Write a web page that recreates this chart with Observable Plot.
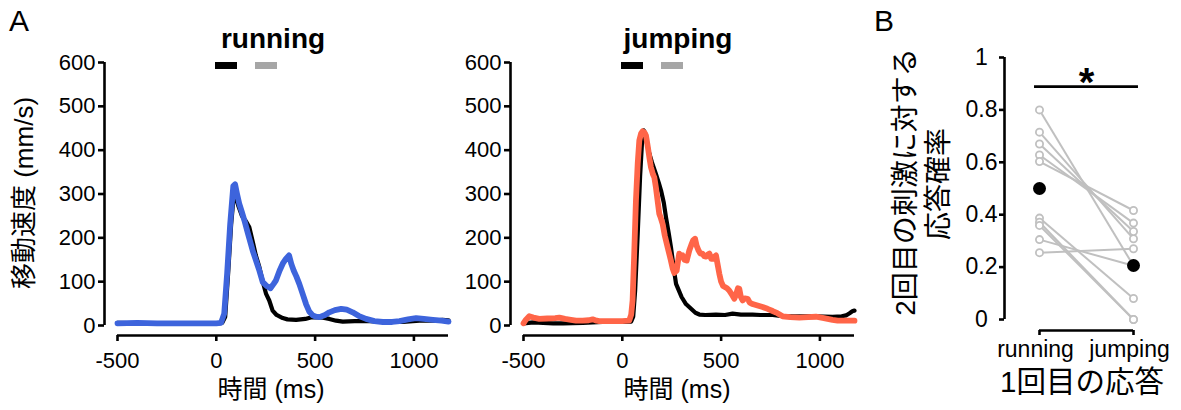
<!DOCTYPE html>
<html><head><meta charset="utf-8">
<script src="https://cdn.jsdelivr.net/npm/d3@7"></script>
<script src="https://cdn.jsdelivr.net/npm/@observablehq/plot@0.6"></script>
<style>
body{margin:0;background:#fff;}
#wrap{position:relative;width:1181px;height:410px;overflow:hidden;background:#fff;}
#wrap svg{position:absolute;top:0;}
</style></head><body><div id="wrap"></div>
<script>
// ---------- data ----------
const timeTicks = [-500, 0, 500, 1000];
const speedTicks = [0, 100, 200, 300, 400, 500, 600];
const probTicks = [0, 0.2, 0.4, 0.6, 0.8, 1];
const groups = ["running", "jumping"];

// [time ms, speed mm/s]
const runningBlack = [[-500,6],[-400,5],[-300,5],[-200,5],[-100,5],[0,5],[30,6],[45,20],[60,120],[75,230],[88,295],[95,300],[110,275],[130,250],[150,238],[167,224],[185,190],[200,160],[218,133],[235,100],[252,72],[268,57],[285,34],[305,24],[336,17],[360,14],[404,13],[450,15],[483,19],[540,18],[572,15],[606,11],[640,9],[700,10],[775,10],[876,8],[944,8],[1028,11],[1100,11],[1146,13],[1175,12]];
const runningColor = [[-500,5],[-400,6],[-300,5],[-200,5],[-100,5],[0,5],[24,6],[40,27],[55,120],[70,230],[86,318],[95,322],[105,300],[116,278],[130,258],[142,240],[160,210],[184,171],[201,148],[218,125],[235,99],[255,90],[274,85],[290,95],[302,103],[320,125],[336,141],[352,152],[368,160],[380,140],[392,125],[405,112],[420,95],[437,72],[454,49],[470,32],[488,23],[505,20],[522,19],[550,24],[572,30],[600,35],[632,38],[660,36],[690,30],[720,22],[758,15],[800,10],[843,8],[890,8],[927,10],[970,14],[1011,17],[1050,15],[1096,13],[1140,11],[1175,9]];

const jumpingBlack = [[-500,5],[-450,7],[-400,6],[-350,5],[-300,5],[-200,6],[-100,8],[0,8],[45,9],[55,20],[65,80],[78,210],[90,340],[100,420],[108,445],[115,440],[125,415],[137,392],[150,372],[170,346],[185,325],[196,308],[210,280],[221,247],[235,210],[246,179],[263,122],[272,95],[288,78],[300,65],[322,49],[348,38],[370,29],[390,25],[420,24],[474,25],[520,24],[558,27],[600,25],[659,25],[700,24],[761,24],[800,22],[850,21],[900,21],[980,21],[1064,20],[1110,21],[1132,23],[1150,28],[1166,33],[1175,34]];
const jumpingColor = [[-500,5],[-490,12],[-471,21],[-450,18],[-420,15],[-380,16],[-340,17],[-319,18],[-290,15],[-260,13],[-234,11],[-200,11],[-170,12],[-150,14],[-130,11],[-116,10],[-60,10],[0,10],[35,11],[45,25],[52,57],[60,160],[69,285],[78,370],[86,422],[95,438],[103,443],[112,440],[120,433],[130,405],[138,380],[145,361],[155,345],[162,338],[170,315],[180,280],[187,255],[195,245],[204,232],[215,205],[229,179],[245,150],[255,130],[263,120],[275,125],[283,150],[288,164],[295,158],[305,160],[314,150],[326,148],[339,171],[350,185],[358,194],[368,198],[376,182],[386,171],[395,164],[405,164],[415,158],[424,157],[433,162],[441,164],[450,152],[458,152],[466,157],[474,160],[482,140],[491,118],[500,100],[510,90],[530,85],[541,80],[555,70],[567,61],[575,70],[585,85],[592,84],[600,65],[609,57],[620,62],[634,61],[645,52],[659,49],[680,46],[710,42],[735,38],[761,33],[785,28],[811,21],[850,19],[896,18],[940,19],[980,20],[1020,17],[1064,13],[1090,11],[1115,11],[1175,11]];

// panel B: response probability to 2nd stimulus, paired by animal
const runningProb = [0.80, 0.715, 0.67, 0.628, 0.603, 0.387, 0.371, 0.359, 0.305, 0.255];
const jumpingProb = [0.205, 0.308, 0.336, 0.368, 0.416, 0.08, 0.0, 0.0, 0.205, 0.27];
const meanProb = [0.50, 0.206];
const sigLevel = 0.889;

// ---------- drawing ----------
const FONT = '"Liberation Sans", Arial, "Noto Sans CJK JP", sans-serif';
const wrap = document.getElementById("wrap");
const baseStyle = {fontFamily: FONT, fontSize: "22px", color: "black", background: "transparent", overflow: "visible"};

function speedPanel(black, colored, color, left, width, mL, mR) {
  const svg = Plot.plot({
    width, height: 410, marginLeft: mL, marginRight: mR, marginTop: 62, marginBottom: 85,
    x: {domain: [-500, 1175]}, y: {domain: [0, 600]},
    style: baseStyle,
    marks: [
      Plot.ruleX([-500], {y1: 0, y2: 600, dx: -13, strokeWidth: 2.6}),
      Plot.axisY({ticks: speedTicks, tickFormat: d => String(d), tickSize: 6, tickPadding: 3, dx: -13, strokeWidth: 2.6, label: null, fontSize: 22}),
      Plot.ruleY([0], {x1: -500, x2: 1175, dy: 10, strokeWidth: 2.6}),
      Plot.axisX({ticks: timeTicks, tickFormat: d => String(d), tickSize: 6, tickPadding: 11, dy: 10, strokeWidth: 2.6, label: null, fontSize: 22}),
      Plot.line(black, {x: d => d[0], y: d => d[1], stroke: "black", strokeWidth: 4.2, strokeLinejoin: "round", strokeLinecap: "round"}),
      Plot.line(colored, {x: d => d[0], y: d => d[1], stroke: color, strokeWidth: 5.8, strokeLinejoin: "round", strokeLinecap: "round"})
    ]
  });
  svg.style.left = left + "px";
  wrap.appendChild(svg);
}

speedPanel(runningBlack, runningColor, "#3d64dc", 0, 460, 117, 12);
speedPanel(jumpingBlack, jumpingColor, "#ff6548", 440, 440, 83, 26);

const pairs = runningProb.map((r, i) => ({r, j: jumpingProb[i]}));
const gray = "#c0c0c0";
const svgB = Plot.plot({
  width: 301, height: 410, marginLeft: 159, marginRight: 48, marginTop: 57, marginBottom: 91,
  x: {domain: [0, 1]}, y: {domain: [0, 1]},
  style: baseStyle,
  marks: [
    Plot.ruleX([0], {y1: 0, y2: 1, dx: -35, strokeWidth: 2.6}),
    Plot.axisY({ticks: probTicks, tickFormat: d => String(d), tickSize: 5, tickPadding: 18, textAnchor: "middle", dx: -35, strokeWidth: 2.6, label: null, fontSize: 23}),
    Plot.ruleY([0], {x1: 0, x2: 1, dy: 11, strokeWidth: 2.6}),
    Plot.axisX({ticks: [0, 1], tickFormat: () => "", tickSize: 5, dy: 11, strokeWidth: 2.6, label: null}),
    Plot.text(groups, {x: (d, i) => i, y: 0, text: d => d, dy: 37, dx: -4, lineAnchor: "bottom", fontSize: 23}),
    Plot.link(pairs, {x1: 0, x2: 1, y1: "r", y2: "j", stroke: gray, strokeWidth: 2}),
    Plot.dot(runningProb, {x: 0, y: d => d, r: 3.6, stroke: gray, fill: "white", strokeWidth: 1.8}),
    Plot.dot(jumpingProb, {x: 1, y: d => d, r: 3.6, stroke: gray, fill: "white", strokeWidth: 1.8}),
    Plot.dot(meanProb, {x: (d, i) => i, y: d => d, r: 6.5, fill: "black"}),
    Plot.ruleY([sigLevel], {x1: -0.053, x2: 1.053, strokeWidth: 2.6}),
    Plot.text(["*"], {x: 0.5, y: sigLevel, text: d => d, dy: 9, lineAnchor: "bottom", fontSize: 40, fontWeight: "bold"})
  ]
});
svgB.style.left = "880px";
wrap.appendChild(svgB);

// ---------- titles, panel letters, axis titles ----------
const ov = d3.select(wrap).append("svg").attr("width", 1181).attr("height", 410)
  .style("left", "0px").style("pointer-events", "none").style("font-family", FONT);
function txt(x, y, s, size, opts = {}) {
  const t = ov.append("text").attr("x", x).attr("y", y).attr("font-size", size)
    .attr("text-anchor", opts.anchor || "middle").attr("fill", "black").text(s);
  if (opts.bold) t.attr("font-weight", "bold");
  if (opts.rotate) t.attr("transform", `rotate(-90 ${x} ${y})`);
  return t;
}
txt(9, 31, "A", 30, {anchor: "start"});
txt(874, 31, "B", 30, {anchor: "start"});
txt(273, 48, "running", 28, {bold: true});
txt(678, 48, "jumping", 28, {bold: true});
// legend bars
[[215, "black"], [255, "#a6a6a6"], [621, "black"], [661, "#a6a6a6"]].forEach(([x, c]) =>
  ov.append("rect").attr("x", x).attr("y", 62).attr("width", 22).attr("height", 7).attr("fill", c));
txt(271, 398, "時間 (ms)", 25);
txt(677, 398, "時間 (ms)", 25);
txt(33, 193, "移動速度 (mm/s)", 26, {rotate: true});
txt(915, 182, "2回目の刺激に対する", 28, {rotate: true});
txt(948, 184, "応答確率", 28, {rotate: true});
txt(1082, 392, "1回目の応答", 29.5);
</script></body></html>
